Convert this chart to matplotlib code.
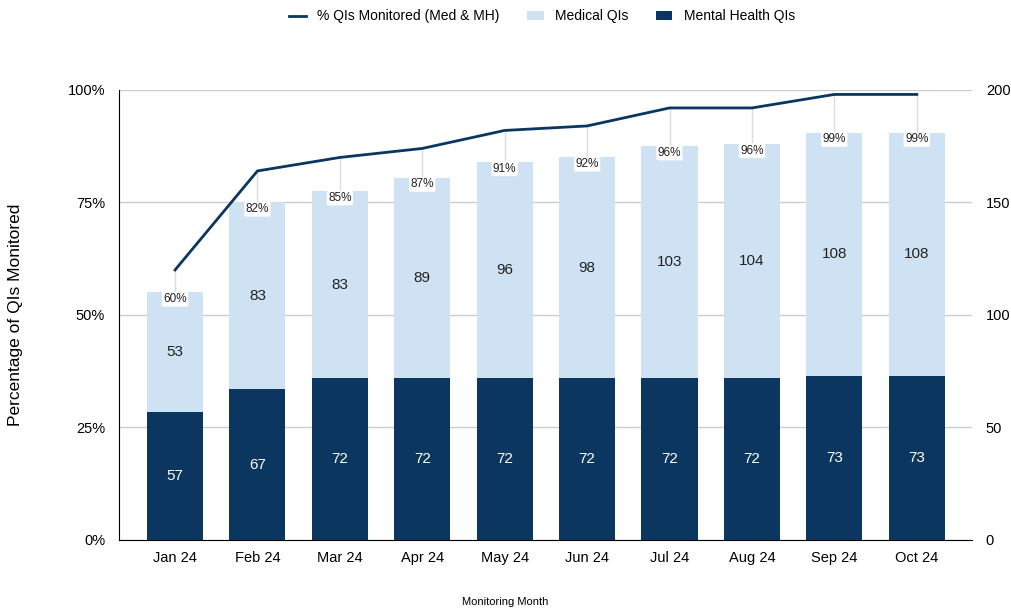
import numpy as np
import matplotlib.pyplot as plt
from matplotlib.ticker import PercentFormatter

plt.rcParams['font.family'] = ['Liberation Sans', 'DejaVu Sans']

months = ['Jan 24', 'Feb 24', 'Mar 24', 'Apr 24', 'May 24', 'Jun 24',
          'Jul 24', 'Aug 24', 'Sep 24', 'Oct 24']
mental_health = [57, 67, 72, 72, 72, 72, 72, 72, 73, 73]
medical = [53, 83, 83, 89, 96, 98, 103, 104, 108, 108]
pct_monitored = [60, 82, 85, 87, 91, 92, 96, 96, 99, 99]

dark = '#0b3660'
light = '#cfe2f3'

fig = plt.figure(figsize=(10.11, 6.16), dpi=100)
ax = fig.add_axes([0.1177, 0.1234, 0.8437, 0.7306])
ax2 = ax.twinx()

x = np.arange(len(months))
mh = np.array(mental_health)
med = np.array(medical)
tot = mh + med

# bars on the right axis
ax2.bar(x, mh, width=0.68, color=dark, label='Mental Health QIs', zorder=2)
ax2.bar(x, med, width=0.68, bottom=mh, color=light, label='Medical QIs', zorder=2)
for i in range(len(x)):
    ax2.text(x[i], mh[i] / 2, str(mh[i]), ha='center', va='center',
             color='white', fontsize=11, zorder=4)
    ax2.text(x[i], mh[i] + med[i] / 2, str(med[i]), ha='center', va='center',
             color='#222222', fontsize=11, zorder=4)
ax2.set_ylim(0, 200)
ax2.set_yticks([0, 50, 100, 150, 200])
ax2.tick_params(axis='y', length=0, labelsize=10.5, pad=10)

# line on the left axis, drawn above bars
line_ax = ax.twinx()
line_ax.set_ylim(0, 100)
line_ax.axis('off')
line_ax.plot(x, pct_monitored, color=dark, lw=2, zorder=5,
             label='% QIs Monitored (Med & MH)')
for i in range(len(x)):
    lab_y = tot[i] / 2 - 1.5
    line_ax.plot([x[i], x[i]], [pct_monitored[i], lab_y + 1.5], color='#dddddd',
                 lw=1, zorder=3)
    line_ax.text(x[i], lab_y, f'{pct_monitored[i]}%', ha='center', va='center',
                 fontsize=8.5, color='#222222', zorder=6,
                 bbox=dict(boxstyle='round,pad=0.12', fc='white', ec='none'))

ax.set_ylim(0, 100)
ax.set_yticks([0, 25, 50, 75, 100])
ax.yaxis.set_major_formatter(PercentFormatter(decimals=0))
ax.set_xlim(-0.68, 9.67)
ax.set_xticks(x)
ax.set_xticklabels(months)
ax.tick_params(axis='x', length=0, labelsize=10.5, pad=8)
ax.tick_params(axis='y', length=0, labelsize=10.5, pad=10)
ax.grid(axis='y', color='#cccccc', lw=1)
ax.set_axisbelow(True)
for a in (ax, ax2):
    a.spines['top'].set_visible(False)
    a.spines['right'].set_visible(False)
ax2.spines['left'].set_visible(False)
ax2.spines['bottom'].set_visible(False)
ax.spines['left'].set_color('black')
ax.spines['bottom'].set_color('black')
ax.set_zorder(0)
ax2.set_zorder(1)
line_ax.set_zorder(2)
ax2.patch.set_visible(False)

ax.set_ylabel('Percentage of QIs Monitored', fontsize=12.5, labelpad=32)
fig.text(0.5, 0.018, 'Monitoring Month', ha='center', fontsize=8)

h1, l1 = line_ax.get_legend_handles_labels()
h2, l2 = ax2.get_legend_handles_labels()
fig.legend([h1[0], h2[1], h2[0]], [l1[0], l2[1], l2[0]], loc='upper center',
           bbox_to_anchor=(0.536, 1.005), ncol=3, frameon=False, fontsize=10,
           handlelength=1.2, columnspacing=2.0)

plt.savefig('out.png', dpi=100)
